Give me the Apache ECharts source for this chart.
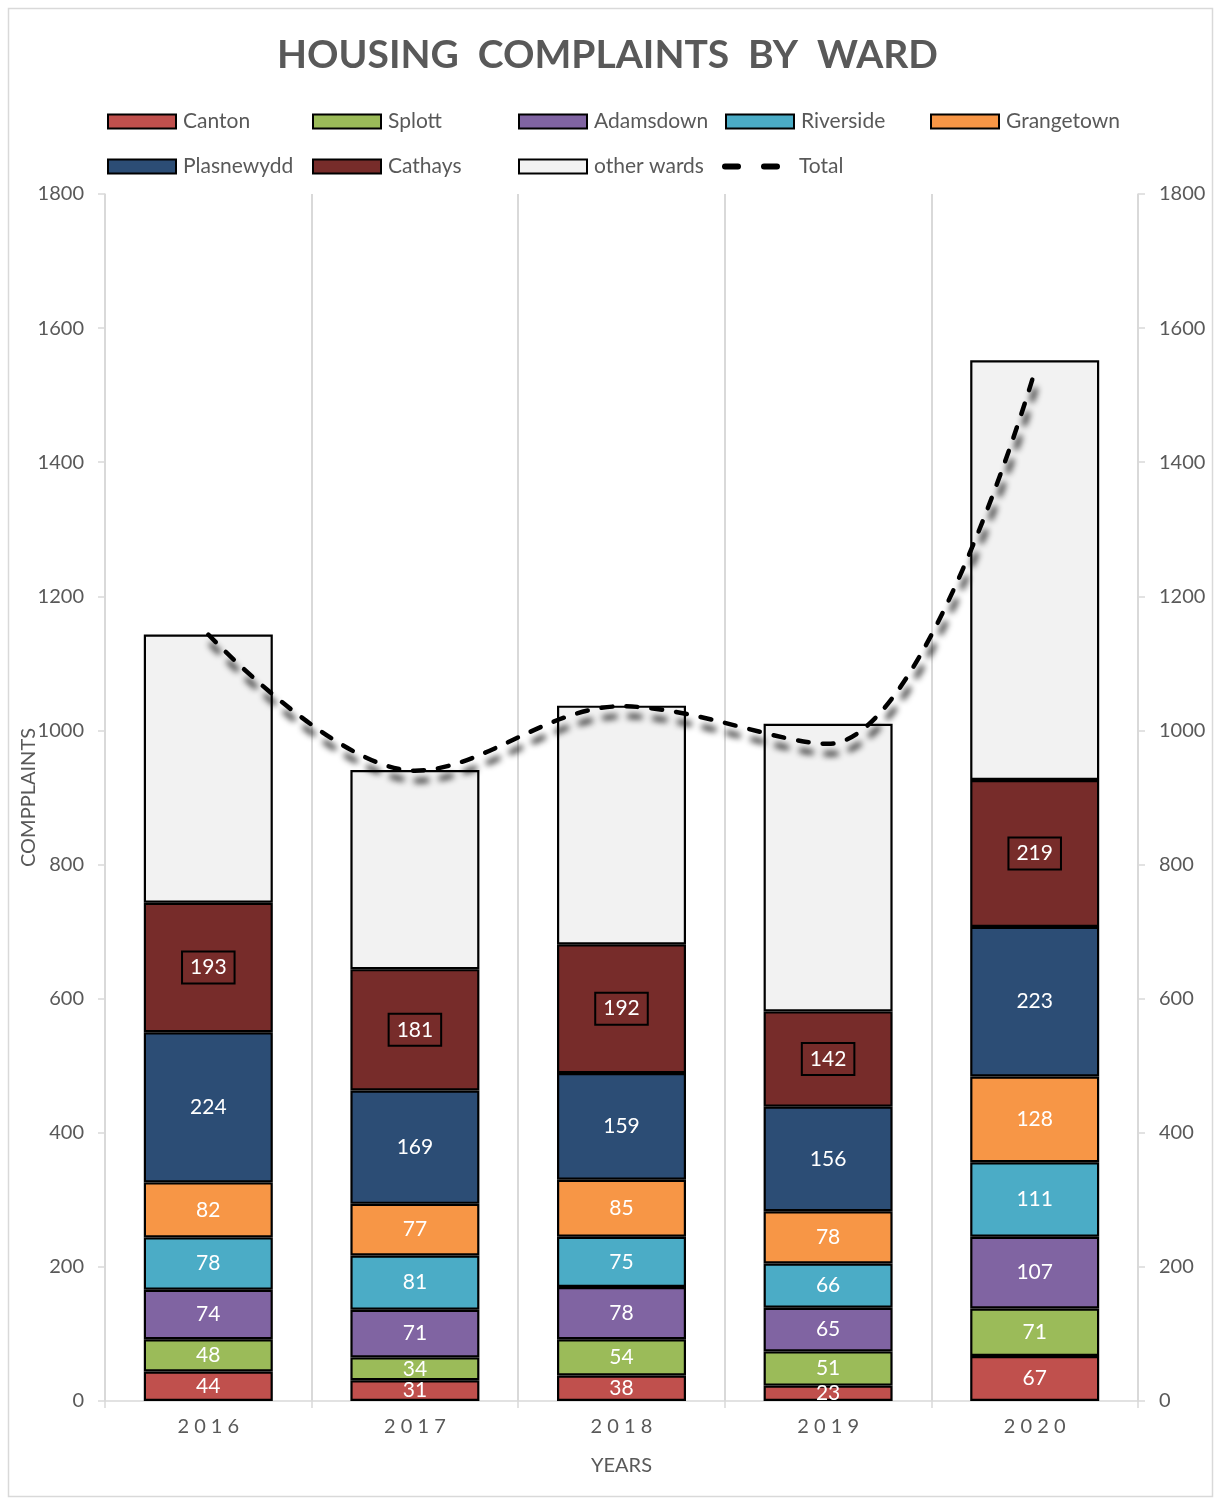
<!DOCTYPE html>
<html>
<head>
<meta charset="utf-8">
<script src="https://cdn.jsdelivr.net/npm/echarts@6/dist/echarts.min.js"></script>
<style>
html,body{margin:0;padding:0;background:#fff;}
#chart{width:1215px;height:1501px;}
</style>
</head>
<body>
<div id="chart"></div>
<script>
const years = ['2016','2017','2018','2019','2020'];
const canton = [44, 31, 38, 23, 67];
const splott = [48, 34, 54, 51, 71];
const adamsdown = [74, 71, 78, 65, 107];
const riverside = [78, 81, 75, 66, 111];
const grangetown = [82, 77, 85, 78, 128];
const plasnewydd = [224, 169, 159, 156, 223];
const cathays = [193, 181, 192, 142, 219];
const otherWards = [400, 297, 356, 429, 626];
const total = [1143, 940, 1036, 980, 1535];
const yTicks = [0, 200, 400, 600, 800, 1000, 1200, 1400, 1600, 1800];

const FONT = 'Lato';
const GRAY = '#595959';

const wards = [
  {name:'Canton', data:canton, color:'#C0504D'},
  {name:'Splott', data:splott, color:'#9BBB59'},
  {name:'Adamsdown', data:adamsdown, color:'#8064A2'},
  {name:'Riverside', data:riverside, color:'#4BACC6'},
  {name:'Grangetown', data:grangetown, color:'#F79646'},
  {name:'Plasnewydd', data:plasnewydd, color:'#2C4D75'},
  {name:'Cathays', data:cathays, color:'#772C2A', boxed:true},
  {name:'other wards', data:otherWards, color:'#F2F2F2', noLabel:true}
];

const series = wards.map(w => ({
  name: w.name,
  type: 'bar',
  stack: 'wards',
  barWidth: 129,
  data: w.data,
  itemStyle: {color: w.color, borderColor: '#000', borderWidth: 2.2},
  label: w.noLabel ? {show:false} : Object.assign({
    show: true, position: 'inside', color: '#fff', fontSize: 21, fontFamily: FONT
  }, w.boxed ? {borderColor:'#000', borderWidth:2, padding:[6,8,5,8]} : {})
}));
series.push({
  name: 'Total',
  type: 'line',
  yAxisIndex: 1,
  data: total,
  smooth: 0.35,
  symbol: 'none',
  z: 10,
  lineStyle: {color:'#000', width:4.5, type:[11,14], cap:'round',
    shadowColor:'rgba(0,0,0,0.9)', shadowBlur:6, shadowOffsetX:3, shadowOffsetY:10},
  itemStyle: {color:'#000'}
});

const legendPos = [
  ['Canton',107,111],['Splott',312,111],['Adamsdown',518,111],['Riverside',725,111],['Grangetown',930,111],
  ['Plasnewydd',107,156],['Cathays',312,156],['other wards',518,156],['Total',722,156]
];
const legends = legendPos.map(([n,x,y]) => {
  const isLine = n === 'Total';
  return {
    data: [n], left: x, top: y, orient:'horizontal', padding: 0,
    itemWidth: isLine ? 58 : 68, itemHeight: isLine ? 6 : 14,
    icon: isLine ? 'path://M3,0h13a3,3 0 0 1 0,6h-13a3,3 0 0 1 0,-6z M42,0h13a3,3 0 0 1 0,6h-13a3,3 0 0 1 0,-6z' : 'rect',
    itemStyle: isLine ? {color:'#000', borderWidth:0, shadowBlur:0} : {borderColor:'#000', borderWidth:2},
    textStyle: {fontSize:21, color:GRAY, fontFamily:FONT, padding: isLine ? [0,0,0,14] : [0,0,0,2]},
    selectedMode: false
  };
});

const yAxisBase = {
  type:'value', min: yTicks[0], max: yTicks[yTicks.length-1], interval: 200,
  axisLine:{show:true, lineStyle:{color:'#d9d9d9', width:1.5}},
  axisTick:{show:true, length:7, lineStyle:{color:'#d9d9d9', width:1.5}},
  splitLine:{show:false},
  axisLabel:{fontSize:20, color:GRAY, fontFamily:FONT, margin:21, formatter: v => String(v)}
};

const chart = echarts.init(document.getElementById('chart'), null, {renderer:'canvas'});
chart.setOption({
  backgroundColor:'#fff',
  animation:false,
  title:{
    text:'HOUSING  COMPLAINTS  BY  WARD', left:'center', top:31,
    textStyle:{fontSize:39, fontWeight:'bold', color:GRAY, fontFamily:FONT}
  },
  legend: legends,
  grid:{left:105, right:77, top:194, bottom:100, containLabel:false},
  xAxis:{
    type:'category', data: years,
    name:'YEARS', nameLocation:'middle', nameGap:55,
    nameTextStyle:{fontSize:20, color:GRAY, fontFamily:FONT},
    axisLine:{show:true, lineStyle:{color:'#d9d9d9', width:1.5}},
    axisTick:{show:true, length:7, lineStyle:{color:'#d9d9d9', width:1.5}},
    splitLine:{show:true, lineStyle:{color:'#d9d9d9', width:2}},
    axisLabel:{fontSize:20, color:GRAY, fontFamily:FONT, margin:16,
      formatter: v => v.split('').join(' ')}
  },
  yAxis:[
    Object.assign({}, yAxisBase, {position:'left', name:'COMPPLAINTS', nameLocation:'middle', nameGap:66,
      nameMoveOverlap:false,
      nameTextStyle:{fontSize:20, color:GRAY, fontFamily:FONT}}),
    Object.assign({}, yAxisBase, {position:'right'})
  ],
  graphic:[{type:'rect', shape:{x:8.5, y:8.5, width:1204, height:1488},
    style:{fill:'none', stroke:'#d9d9d9', lineWidth:1.5}, silent:true}],
  series: series
});
</script>
</body>
</html>
